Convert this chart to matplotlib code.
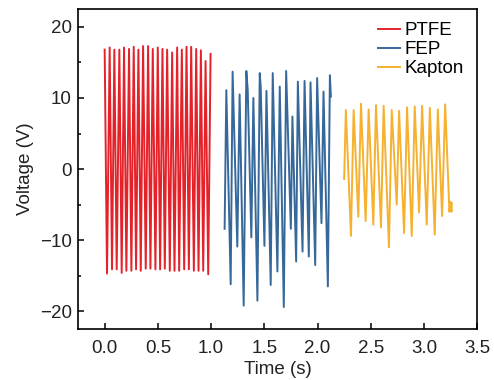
import matplotlib
matplotlib.use('Agg')
import matplotlib.pyplot as plt
from matplotlib.ticker import MultipleLocator

plt.rcParams['font.family'] = ['Liberation Sans', 'DejaVu Sans']
plt.rcParams['font.size'] = 13.5

#region Data (turning points)

ptfe_t = [0.000, 0.022, 0.047, 0.069, 0.091, 0.113, 0.138, 0.160, 0.182, 0.204,
          0.229, 0.251, 0.273, 0.295, 0.317, 0.339, 0.361, 0.386, 0.408, 0.430,
          0.452, 0.477, 0.499, 0.521, 0.543, 0.565, 0.587, 0.612, 0.634, 0.656,
          0.681, 0.700, 0.725, 0.747, 0.769, 0.791, 0.813, 0.838, 0.860, 0.882,
          0.904, 0.926, 0.948, 0.973, 0.995]
ptfe_v = [16.8, -14.7, 17.1, -14.1, 16.8, -14.1, 16.8, -14.6, 17.1, -14.3,
          16.9, -14.3, 17.2, -14.1, 16.8, -14.3, 17.3, -14.0, 17.3, -14.0,
          16.9, -14.1, 17.1, -14.1, 16.9, -14.0, 16.8, -14.3, 16.4, -14.3,
          17.1, -14.3, 16.8, -14.1, 17.2, -14.1, 17.2, -14.3, 16.9, -14.3,
          16.7, -14.3, 15.2, -14.8, 16.2]

fep_t = [1.127, 1.143, 1.184, 1.202, 1.246, 1.268, 1.306, 1.331, 1.344, 1.378,
         1.397, 1.435, 1.457, 1.466, 1.501, 1.520, 1.560, 1.579, 1.623, 1.645,
         1.683, 1.705, 1.749, 1.764, 1.799, 1.815, 1.859, 1.878, 1.918, 1.934,
         1.978, 1.996, 2.037, 2.056, 2.097, 2.116, 2.125]
fep_v = [-8.4, 11.1, -16.2, 13.7, -10.9, 10.5, -19.2, 13.8, 11.1, -9.6,
         10.0, -18.5, 13.5, 11.6, -10.8, 11.0, -16.3, 13.5, -14.4, 11.6,
         -19.4, 13.8, -8.4, 7.4, -13.0, 12.3, -11.6, 12.4, -12.3, 12.2,
         -13.5, 12.8, -7.6, 10.9, -16.5, 13.2, 10.2]

kapton_t = [2.250, 2.266, 2.314, 2.339, 2.383, 2.408, 2.452, 2.480, 2.524, 2.549,
            2.596, 2.621, 2.671, 2.697, 2.744, 2.766, 2.813, 2.841, 2.885, 2.913,
            2.954, 2.982, 3.026, 3.055, 3.101, 3.130, 3.170, 3.199, 3.239, 3.249,
            3.258, 3.262]
kapton_v = [-1.4, 8.3, -9.4, 8.3, -6.7, 9.2, -7.3, 8.4, -7.8, 9.0,
            -8.2, 8.9, -11.0, 8.3, -5.0, 8.2, -9.0, 8.7, -9.4, 8.8,
            -6.1, 8.9, -7.8, 8.6, -9.2, 8.4, -6.6, 9.1, -6.0, -4.6,
            -6.0, -4.8]

series = [
    (ptfe_t, ptfe_v, '#e4222a', 'PTFE'),
    (fep_t, fep_v, '#36689a', 'FEP'),
    (kapton_t, kapton_v, '#f5b12f', 'Kapton'),
]

#endregion

#region Plot

fig = plt.figure(figsize=(4.94, 3.80), dpi=100)
ax = fig.add_axes([0.158, 0.134, 0.808, 0.842])

for t, v, c, name in series:
    ax.plot(t, v, color=c, lw=1.4, label=name)

ax.set_xlim(-0.25, 3.5)
ax.set_ylim(-22.5, 22.5)
ax.xaxis.set_major_locator(MultipleLocator(0.5))
ax.yaxis.set_major_locator(MultipleLocator(10))
ax.yaxis.set_minor_locator(MultipleLocator(5))
ax.tick_params(which='both', direction='in', width=1.1, colors='black', labelcolor='#222222')
ax.tick_params(which='major', length=4.5)
ax.tick_params(which='minor', length=2.5)
ax.tick_params(axis='x', which='major', pad=8)
ax.tick_params(axis='y', which='major', pad=4.5)
ax.set_xticklabels([f'{x:.1f}' for x in ax.get_xticks()])
for s in ax.spines.values():
    s.set_linewidth(1.2)

ax.set_xlabel('Time (s)', labelpad=2.5, color='#222222')
ax.set_ylabel('Voltage (V)', labelpad=4, color='#222222')

ax.legend(loc='upper right', frameon=False, handlelength=1.2, handletextpad=0.25,
          labelspacing=0.1, borderaxespad=0.3, fontsize=13.5)

fig.savefig('out.png', dpi=100)

#endregion
